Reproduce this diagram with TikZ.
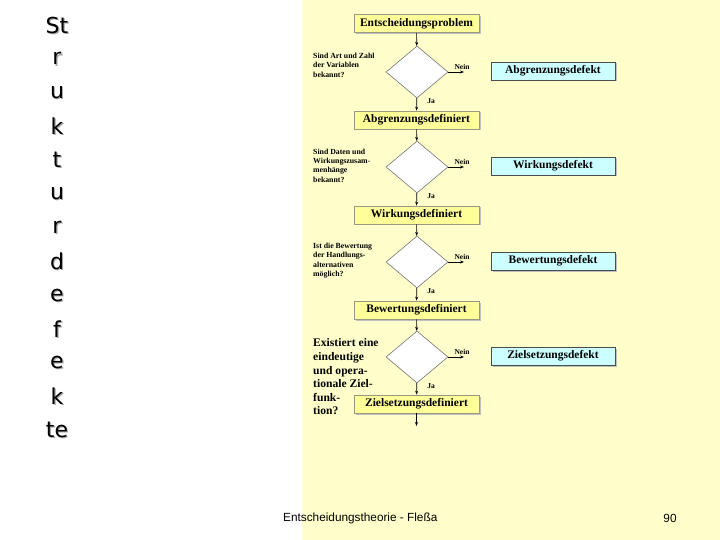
\documentclass[tikz,border=0pt]{standalone}
\usepackage{fontspec}
\setmainfont{Liberation Serif}
\newfontfamily\sidefont{DejaVu Sans}
\newfontfamily\footfont{Liberation Sans}
\usetikzlibrary{shapes.geometric,arrows.meta}
\definecolor{bgyellow}{HTML}{FFFFCC}
\definecolor{boxyellow}{HTML}{FFFF99}
\definecolor{boxcyan}{HTML}{CCFFFF}
\definecolor{boxline}{HTML}{9A9A80}
\tikzset{
  defbox/.style={draw=boxline, line width=0.7pt, fill=boxyellow, minimum width=125pt, minimum height=18pt, inner sep=0pt,
    font=\bfseries\fontsize{11.5}{13}\selectfont},
  errbox/.style={draw=black!70, line width=0.7pt, fill=boxcyan, minimum width=124pt, minimum height=18pt, inner sep=0pt,
    font=\bfseries\fontsize{11.5}{12}\selectfont},
  dia/.style={diamond, draw=black!55, line width=0.6pt, fill=white, minimum width=62pt, minimum height=52pt, inner sep=0pt},
  arr/.style={-{Stealth[length=4pt,width=3pt]}, line width=0.7pt},
  qtext/.style={anchor=west, inner sep=0pt, align=left, font=\bfseries\fontsize{7.8}{9.4}\selectfont},
  lab/.style={inner sep=0pt, font=\bfseries\fontsize{7.5}{8}\selectfont},
  side/.style={inner sep=0pt, font=\sidefont\fontsize{22}{24}\selectfont},
  sideshadow/.style={inner sep=0pt, text=black!35, font=\sidefont\fontsize{22}{24}\selectfont},
}
\begin{document}
\begin{tikzpicture}[x=1pt,y=-1pt]
\useasboundingbox (0,0) rectangle (720,540);
\fill[white] (0,0) rectangle (720,540);
\fill[bgyellow] (302,0) rectangle (720,540);

% left vertical title
\foreach \t [count=\i from 0] in {St,r,u,k,t,u,r,d,e,f,e,k,te}{
  \node[sideshadow] at (58.2,{25+33.75*\i+1.2}) {\t};
  \node[side] (s\i) at (57,{25+33.75*\i}) {\t};
}

% shadows of boxes
\foreach \y in {23.5,120,215,310,404}{
  \fill[black!25] (355.5,{\y-7.5}) rectangle (480.5,{\y+10.5});
}
\foreach \y in {71,166,261,356}{
  \fill[black!25] (492.5,{\y-7.5}) rectangle (616.5,{\y+10.5});
}

% main column
\node[defbox] (p0) at (416.5,23.5) {Entscheidungsproblem};
\node[dia] (d1) at (417,72) {};
\node[defbox] (p1) at (416.5,120) {Abgrenzungsdefiniert};
\node[dia] (d2) at (417,167) {};
\node[defbox] (p2) at (416.5,215) {Wirkungsdefiniert};
\node[dia] (d3) at (417,262) {};
\node[defbox] (p3) at (416.5,310) {Bewertungsdefiniert};
\node[dia] (d4) at (417,357) {};
\node[defbox] (p4) at (416.5,404) {Zielsetzungsdefiniert};
\coordinate (end) at (416.5,426);

\draw[arr] (p0) -- (d1);
\draw[arr] (d1) -- (p1);
\draw[arr] (p1) -- (d2);
\draw[arr] (d2) -- (p2);
\draw[arr] (p2) -- (d3);
\draw[arr] (d3) -- (p3);
\draw[arr] (p3) -- (d4);
\draw[arr] (d4) -- (p4);
\draw[arr] (p4) -- (end);

% defect boxes
\node[errbox] (e1) at (553,71) {Abgrenzungsdefekt};
\node[errbox] (e2) at (553,166) {Wirkungsdefekt};
\node[errbox] (e3) at (553,261) {Bewertungsdefekt};
\node[errbox] (e4) at (553,356) {Zielsetzungsdefekt};

% Nein arrows
\foreach \k/\y in {1/72,2/167,3/262,4/357}{
  \coordinate (n\k) at (464,\y);
  \draw[arr] (d\k.east) -- (n\k);
  \node[lab] at (462,\y-5) {Nein};
  \node[lab] at (431,\y+29) {Ja};
}

% questions
\node[qtext] (q1) at (313,65) {Sind Art und Zahl\\der Variablen\\bekannt?};
\node[qtext] (q2) at (313,165.5) {Sind Daten und\\Wirkungszusam-\\menhänge\\bekannt?};
\node[qtext] (q3) at (313,260.5) {Ist die Bewertung\\der Handlungs-\\alternativen\\möglich?};
\node[anchor=west, inner sep=0pt, align=left, font=\bfseries\fontsize{11.6}{13.6}\selectfont] (q4) at (313,377) {Existiert eine\\eindeutige\\und opera-\\tionale Ziel-\\funk-\\tion?};

% footer
\node[inner sep=0pt, anchor=west, font=\footfont\fontsize{11.8}{13}\selectfont] (f1) at (283,518) {Entscheidungstheorie - Fleßa};
\node[inner sep=0pt, font=\footfont\fontsize{11.8}{13}\selectfont] (f2) at (670,518) {90};
\end{tikzpicture}
\end{document}
